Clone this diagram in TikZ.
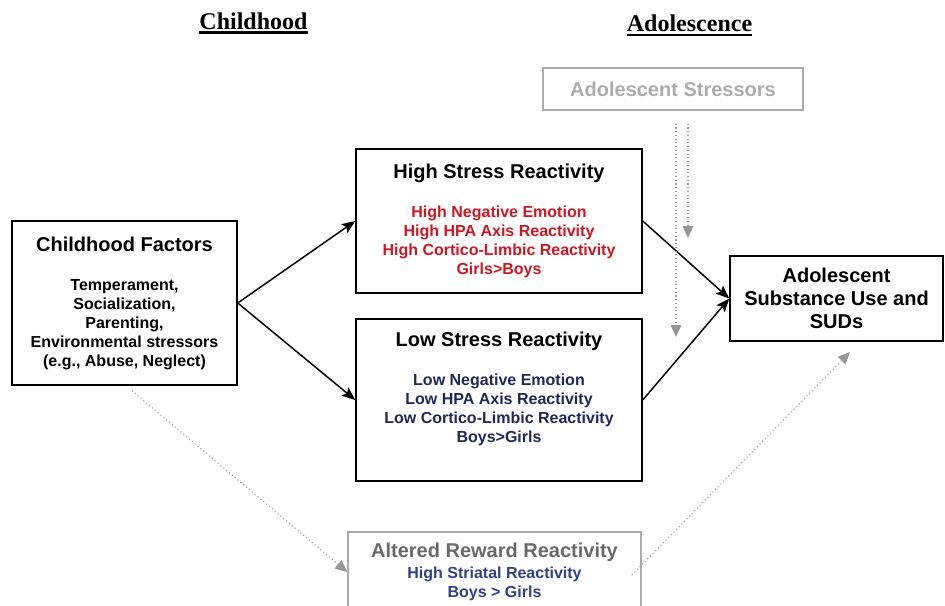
\documentclass[tikz,border=0pt]{standalone}
\usepackage{fontspec}
\setmainfont{Liberation Serif}
\setsansfont{Liberation Sans}
\usetikzlibrary{arrows.meta,positioning}

% one pixel of the 945x606 layout
\newcommand{\pix}{*0.75pt}
\newcommand{\ttl}{\fontsize{15}{17.25}\selectfont}
\newcommand{\thickul}[1]{\setbox0\hbox{#1}\rlap{\vrule width\wd0 height -1.5pt depth 3.3pt}\box0}

\definecolor{hired}{RGB}{208,22,32}
\definecolor{lonavy}{RGB}{30,40,95}
\definecolor{rewblue}{RGB}{45,65,140}
\definecolor{softgray}{RGB}{172,172,172}
\definecolor{midgray}{RGB}{105,105,105}
\definecolor{dotgray}{RGB}{150,150,150}

\tikzstyle{box} = [draw, line width=1.1pt, align=center, font=\sffamily\bfseries\fontsize{12}{14.25}\selectfont]
\tikzstyle{greybox} = [box, draw=softgray]
\tikzstyle{stage} = [font=\bfseries\fontsize{18}{20}\selectfont, inner sep=0pt, anchor=base]
\tikzstyle{arrow} = [line width=1.1pt, -{Stealth[length=10pt,width=8pt,inset=2pt]}]
\tikzstyle{dotarrow} = [dotgray, line width=0.8pt, dotted, -{Triangle[length=9pt,width=8pt]}]

\begin{document}
\begin{tikzpicture}[x=0.75pt,y=-0.75pt]

    \useasboundingbox (0,0) rectangle (945,606);

    % stage headings
    \node[stage] (childhd) at (253.5,29.5) {\thickul{Childhood}};
    \node[stage] (adolhd) at (689.5,32) {\thickul{Adolescence}};

    % childhood factors
    \node[box, minimum width=225\pix, minimum height=164\pix] (child) at (124.5,303)
        {{\ttl Childhood Factors}\\[15pt] Temperament,\\ Socialization,\\ Parenting,\\
         Environmental stressors\\ (e.g., Abuse, Neglect)};

    % high / low stress reactivity
    \node[box, minimum width=286\pix, minimum height=144\pix] (high) at (499,221)
        {{\ttl High Stress Reactivity}\\[15pt]
         \textcolor{hired}{High Negative Emotion}\\
         \textcolor{hired}{High HPA Axis Reactivity}\\
         \textcolor{hired}{High Cortico-Limbic Reactivity}\\
         \textcolor{hired}{Girls>Boys}};
    \node[box, minimum width=286\pix, minimum height=162\pix] (low) at (499,400) {};
    \node[box, draw=none, inner sep=0pt, below=9.75pt of low.north] (lowtext)
        {{\ttl Low Stress Reactivity}\\[15pt]
         \textcolor{lonavy}{Low Negative Emotion}\\
         \textcolor{lonavy}{Low HPA Axis Reactivity}\\
         \textcolor{lonavy}{Low Cortico-Limbic Reactivity}\\
         \textcolor{lonavy}{Boys>Girls}};

    % outcome
    \node[box, minimum width=213\pix, minimum height=85\pix, font=\sffamily\bfseries\ttl] (adol) at (836.5,298.5)
        {Adolescent\\ Substance Use and\\ SUDs};

    % grey (secondary) paths
    \node[greybox, text=softgray, minimum width=260\pix, minimum height=42\pix, font=\sffamily\bfseries\ttl] (stress) at (673,89)
        {Adolescent Stressors};
    \node[greybox, minimum width=293\pix, minimum height=80\pix] (reward) at (494.5,572)
        {\textcolor{midgray}{\ttl Altered Reward Reactivity}\\[1pt]
         \textcolor{rewblue}{High Striatal Reactivity}\\
         \textcolor{rewblue}{Boys > Girls}};

    \coordinate (stressend1) at (676,337);
    \coordinate (stressend2) at (688,238);
    \coordinate (rewardend) at (850,352);

    % main paths
    \draw[arrow] (child.east) -- (high.west);
    \draw[arrow] (child.east) -- (low.west);
    \draw[arrow] (high.east) -- (adol.west);
    \draw[arrow] (low.east) -- (adol.west);

    % dotted paths
    \draw[dotarrow] ([xshift=2.25pt,yshift=-9.75pt]stress.south) -- (stressend1);
    \draw[dotarrow] ([xshift=11.25pt,yshift=-9.75pt]stress.south) -- (stressend2);
    \draw[dotarrow] ([xshift=5.6pt,yshift=-3.75pt]child.south) -- (reward.west);
    \draw[dotarrow] ([xshift=-7.5pt,yshift=-2.25pt]reward.east) -- (rewardend);

\end{tikzpicture}
\end{document}
